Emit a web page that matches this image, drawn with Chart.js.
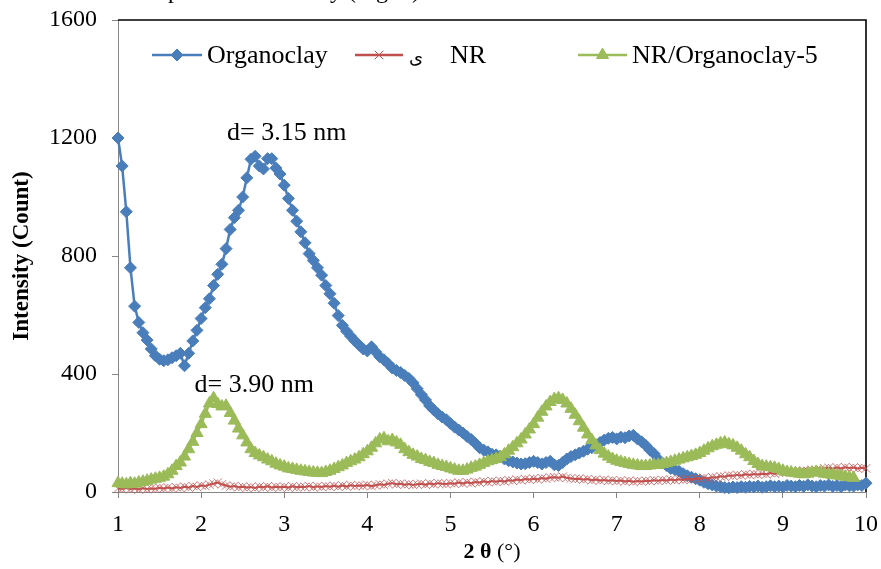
<!DOCTYPE html>
<html>
<head>
<meta charset="utf-8">
<script src="https://cdn.jsdelivr.net/npm/chart.js@4.4.1/dist/chart.umd.min.js"></script>
<style>
  html, body { margin: 0; padding: 0; background: #fff; }
  #wrap { width: 881px; height: 569px; }
</style>
</head>
<body>
<div id="wrap"><canvas id="xrd" width="881" height="569"></canvas></div>
<script>
const SERIF = '"Liberation Serif", "Times New Roman", serif';

// XRD scan: 2θ from 1.00° in 0.05° steps
const SCAN_START = 1;
const SCAN_STEP = 0.05;

const organoclay = [
  1200, 1105, 950, 760, 630, 575, 540, 515, 485, 462, 450, 445, 448, 455, 462, 470, 428, 470, 512, 548,
  588, 625, 655, 700, 738, 772, 825, 890, 930, 955, 1000, 1065, 1128, 1138, 1105, 1095, 1130, 1130, 1098, 1078,
  1040, 995, 955, 918, 882, 845, 808, 785, 760, 735, 700, 672, 640, 598, 565, 545, 528, 512, 498, 485,
  478, 492, 475, 458, 448, 435, 420, 412, 405, 395, 385, 370, 350, 330, 312, 292, 278, 265, 254, 245,
  232, 220, 210, 200, 188, 178, 165, 150, 142, 136, 128, 126, 122, 112, 106, 102, 98, 95, 96, 100,
  104, 100, 95, 100, 104, 92, 90, 100, 112, 120, 126, 132, 138, 145, 150, 158, 168, 176, 182, 185,
  180, 186, 184, 190, 192, 180, 170, 158, 142, 130, 112, 98, 90, 80, 76, 70, 62, 55, 50, 45,
  40, 33, 28, 24, 20, 18, 15, 14, 17, 15, 18, 16, 19, 17, 20, 16, 18, 21, 18, 20,
  17, 22, 20, 18, 22, 19, 24, 20, 18, 22, 20, 24, 19, 22, 18, 24, 21, 20, 24, 22,
  30
];

const nr = [
  12, 10, 14, 10, 12, 9, 13, 10, 12, 11, 14, 12, 15, 12, 16, 14, 18, 15, 20, 17,
  22, 20, 25, 28, 32, 26, 22, 18, 20, 16, 18, 15, 17, 14, 18, 16, 19, 15, 18, 16,
  18, 15, 19, 16, 18, 17, 20, 16, 19, 17, 20, 18, 21, 18, 22, 19, 23, 20, 22, 21,
  24, 20, 23, 26, 24, 28, 30, 26, 28, 25, 27, 24, 26, 28, 25, 29, 26, 30, 28, 27,
  30, 28, 32, 29, 33, 30, 34, 32, 36, 33, 37, 35, 38, 36, 40, 38, 42, 40, 44, 42,
  45, 43, 47, 45, 49, 50, 48, 52, 48, 46, 44, 45, 42, 44, 40, 42, 39, 41, 38, 40,
  37, 39, 36, 38, 35, 37, 36, 38, 37, 40, 38, 41, 39, 42, 40, 43, 41, 44, 42, 46,
  45, 48, 46, 50, 49, 53, 52, 56, 55, 58, 56, 60, 58, 61, 59, 62, 60, 64, 62, 65,
  66, 69, 67, 71, 70, 73, 72, 75, 74, 77, 80, 82, 79, 83, 80, 84, 81, 83, 80, 82,
  80
];

// this scan stops at 9.85°
const nrOrganoclay5 = [
  30, 28, 26, 30, 28, 32, 35, 38, 42, 45, 48, 52, 60, 72, 88, 100, 120, 145, 170, 200,
  230, 265, 300, 318, 298, 290, 292, 268, 242, 215, 192, 168, 145, 132, 124, 118, 110, 104, 96, 90,
  86, 80, 78, 75, 72, 70, 68, 66, 65, 64, 68, 72, 78, 84, 90, 98, 104, 110, 118, 128,
  138, 150, 165, 178, 182, 172, 176, 168, 160, 145, 135, 126, 120, 112, 108, 102, 98, 92, 88, 85,
  80, 76, 72, 72, 76, 82, 86, 92, 98, 104, 108, 112, 118, 128, 140, 152, 165, 178, 195, 212,
  230, 252, 272, 290, 305, 315, 318, 312, 300, 282, 262, 240, 218, 195, 176, 158, 142, 130, 120, 112,
  106, 102, 98, 95, 92, 90, 88, 88, 90, 92, 92, 95, 98, 102, 106, 110, 114, 118, 122, 126,
  132, 140, 148, 155, 160, 165, 168, 162, 158, 150, 140, 128, 118, 105, 95, 88, 86, 84, 82, 78,
  72, 68, 66, 64, 62, 60, 62, 66, 68, 66, 62, 60, 58, 56, 54, 52, 50, 48
];

const X_TICKS = [1, 2, 3, 4, 5, 6, 7, 8, 9, 10];
const Y_TICKS = [0, 400, 800, 1200, 1600];

const PEAK_NOTES = [
  { text: 'd= 3.15 nm', at: 3.03, value: 1217 },
  { text: 'd= 3.90 nm', at: 2.64, value: 363 }
];

const BLUE = '#4A7EBB';
const RED = '#C0504D';
const GREEN = '#9BBB59';

const toPoints = arr => arr.map((v, i) => ({ x: +(SCAN_START + i * SCAN_STEP).toFixed(2), y: v }));

const SERIES = [
  { label: 'Organoclay', values: organoclay, color: BLUE, style: 'rectRot', radius: 6, order: 3 },
  { label: 'NR', values: nr, color: RED, style: 'crossRot', radius: 6, order: 2 },
  { label: 'NR/Organoclay-5', values: nrOrganoclay5, color: GREEN, style: 'triangle', radius: 7, order: 1 }
];

// legend entries sit inside the plot, Excel style: line + marker + text
const LEGEND_ROW = [
  { line: [152, 202], textX: 207 },
  { line: [355, 403], textX: 450, prefix: 'ى', prefixX: 409 },
  { line: [578, 627], textX: 632 }
];

const decorations = {
  id: 'decorations',
  beforeDatasetsDraw(chart) {
    const { ctx, chartArea: a } = chart;
    ctx.save();
    ctx.strokeStyle = '#000';
    ctx.lineWidth = 1.6;
    ctx.beginPath();
    ctx.moveTo(a.left, a.top);
    ctx.lineTo(a.right, a.top);
    ctx.lineTo(a.right, a.bottom);
    ctx.stroke();
    ctx.restore();
  },
  afterDraw(chart) {
    const { ctx, chartArea: a, scales: { x, y } } = chart;
    ctx.save();
    ctx.fillStyle = '#000';

    // tail of the caption line above the figure
    ctx.font = `24px ${SERIF}`;
    ctx.textAlign = 'left';
    ctx.textBaseline = 'alphabetic';
    ctx.fillText('pattern of the clay (Fig. 2)', 168, -2);

    // peak annotations
    ctx.font = `26px ${SERIF}`;
    ctx.textAlign = 'center';
    ctx.textBaseline = 'middle';
    PEAK_NOTES.forEach(n => ctx.fillText(n.text, x.getPixelForValue(n.at), y.getPixelForValue(n.value)));

    // legend
    const ly = a.top + 35;
    SERIES.forEach((s, i) => {
      const e = LEGEND_ROW[i];
      ctx.strokeStyle = s.color;
      ctx.fillStyle = s.color;
      ctx.lineWidth = 2.5;
      ctx.beginPath();
      ctx.moveTo(e.line[0], ly);
      ctx.lineTo(e.line[1], ly);
      ctx.stroke();
      ctx.lineWidth = 1;
      Chart.helpers.drawPoint(ctx, { pointStyle: s.style, radius: s.radius, borderWidth: 1, rotation: 0 },
        (e.line[0] + e.line[1]) / 2, ly);
      ctx.fillStyle = '#000';
      ctx.textAlign = 'left';
      ctx.textBaseline = 'middle';
      if (e.prefix) {
        ctx.font = '18px "DejaVu Sans", sans-serif';
        ctx.fillText(e.prefix, e.prefixX, ly + 3);
      }
      ctx.font = `26px ${SERIF}`;
      ctx.fillText(s.label, e.textX, ly + 1);
    });

    // axis titles
    ctx.font = `bold 23px ${SERIF}`;
    ctx.save();
    ctx.translate(22, (a.top + a.bottom) / 2);
    ctx.rotate(-Math.PI / 2);
    ctx.textAlign = 'center';
    ctx.fillText('Intensity (Count)', 0, 0);
    ctx.restore();

    const boldPart = '2 θ';
    const plainPart = ' (°)';
    ctx.font = `bold 22px ${SERIF}`;
    const w1 = ctx.measureText(boldPart).width;
    ctx.font = `22px ${SERIF}`;
    const w2 = ctx.measureText(plainPart).width;
    const tx = (a.left + a.right) / 2 - (w1 + w2) / 2;
    ctx.textAlign = 'left';
    ctx.font = `bold 22px ${SERIF}`;
    ctx.fillText(boldPart, tx, 552);
    ctx.font = `22px ${SERIF}`;
    ctx.fillText(plainPart, tx + w1, 552);

    ctx.restore();
  }
};

new Chart(document.getElementById('xrd'), {
  type: 'line',
  data: {
    datasets: SERIES.map(s => ({
      label: s.label,
      data: toPoints(s.values),
      borderColor: s.color,
      backgroundColor: s.color,
      borderWidth: s.style === 'crossRot' ? 2 : 2.5,
      pointStyle: s.style,
      pointRadius: s.radius,
      pointBorderWidth: 1,
      pointBackgroundColor: s.color,
      pointBorderColor: s.style === 'crossRot' ? 'rgba(192,80,77,0.75)' : s.color,
      tension: 0,
      clip: false,
      order: s.order
    }))
  },
  options: {
    responsive: false,
    animation: false,
    devicePixelRatio: 1,
    layout: { padding: { top: 20, right: 15, left: 0, bottom: 0 } },
    plugins: { legend: { display: false }, tooltip: { enabled: false } },
    scales: {
      x: {
        type: 'linear', min: 1, max: 10,
        afterBuildTicks: s => { s.ticks = X_TICKS.map(v => ({ value: v })); },
        afterFit: s => { s.height = 77; s.paddingLeft = 0; s.paddingRight = 0; },
        grid: { drawOnChartArea: false, tickLength: 6, color: '#868686' },
        border: { color: '#868686', width: 1 },
        ticks: { color: '#000', font: { family: SERIF, size: 24 }, padding: 12, maxRotation: 0, autoSkip: false, callback: v => v }
      },
      y: {
        min: 0, max: 1600,
        afterBuildTicks: s => { s.ticks = Y_TICKS.map(v => ({ value: v })); },
        afterFit: s => { s.width = 118; s.paddingTop = 0; s.paddingBottom = 0; },
        grid: { drawOnChartArea: false, tickLength: 6, color: '#868686' },
        border: { color: '#868686', width: 1 },
        ticks: { color: '#000', font: { family: SERIF, size: 24 }, padding: 15, callback: v => v }
      }
    }
  },
  plugins: [decorations]
});
</script>
</body>
</html>
